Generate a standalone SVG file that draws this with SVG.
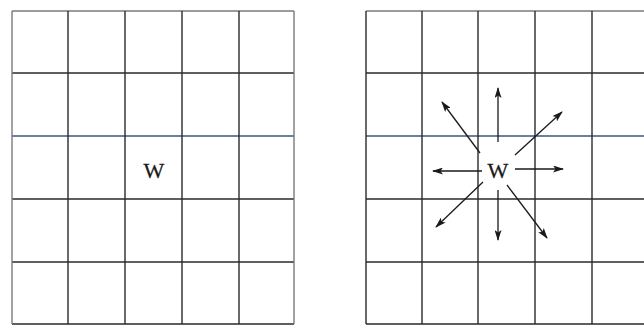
<svg xmlns="http://www.w3.org/2000/svg" width="644" height="326" viewBox="0 0 644 326">
<style>
.g{stroke:#2a2a2a;stroke-width:1.4;fill:none}
.t{stroke:#7a7a7a}
.b{stroke:#3a5585}
.w{font-family:"Liberation Serif",serif;font-size:22px;fill:#1a1a1a;stroke:#1a1a1a;stroke-width:0.3;text-anchor:middle}
.a{stroke:#1a1a1a;stroke-width:1.3;fill:none;marker-end:url(#ah)}
</style>
<defs>
<marker id="ah" viewBox="0 0 11 7" refX="10" refY="3.5" markerWidth="11" markerHeight="7" markerUnits="userSpaceOnUse" orient="auto">
<path d="M0,0 L11,3.5 L0,7 L2.5,3.5 Z" fill="#1a1a1a"/>
</marker>
</defs>
<rect width="644" height="326" fill="#ffffff"/>
<g id="grid-left">
<line class="g t" x1="12" y1="11" x2="294" y2="11"/>
<line class="g" x1="12" y1="73" x2="294" y2="73"/>
<line class="g b" x1="12" y1="136" x2="294" y2="136"/>
<line class="g" x1="12" y1="199" x2="294" y2="199"/>
<line class="g" x1="12" y1="262" x2="294" y2="262"/>
<line class="g" x1="12" y1="324" x2="294" y2="324"/>
<line class="g t" x1="12" y1="11" x2="12" y2="324"/>
<line class="g" x1="68" y1="11" x2="68" y2="324"/>
<line class="g" x1="125" y1="11" x2="125" y2="324"/>
<line class="g" x1="182" y1="11" x2="182" y2="324"/>
<line class="g" x1="239" y1="11" x2="239" y2="324"/>
<line class="g t" x1="294" y1="11" x2="294" y2="324"/>
</g>
<g id="grid-right">
<line class="g t" x1="366" y1="11" x2="644" y2="11"/>
<line class="g" x1="366" y1="73" x2="644" y2="73"/>
<line class="g b" x1="366" y1="136" x2="644" y2="136"/>
<line class="g" x1="366" y1="199" x2="644" y2="199"/>
<line class="g" x1="366" y1="262" x2="644" y2="262"/>
<line class="g" x1="366" y1="324" x2="644" y2="324"/>
<line class="g" x1="366" y1="11" x2="366" y2="324"/>
<line class="g" x1="422" y1="11" x2="422" y2="324"/>
<line class="g" x1="478" y1="11" x2="478" y2="324"/>
<line class="g" x1="535" y1="11" x2="535" y2="324"/>
<line class="g" x1="592" y1="11" x2="592" y2="324"/>
</g>
<g id="node-w-left">
<text class="w" x="154" y="178">W</text>
</g>
<g id="node-w-right">
<text class="w" x="498" y="178">W</text>
</g>
<g id="connectors">
<line class="a" x1="498" y1="142" x2="498" y2="88"/>
<line class="a" x1="498" y1="190" x2="498" y2="240"/>
<line class="a" x1="482" y1="171" x2="433" y2="171"/>
<line class="a" x1="515" y1="169" x2="563" y2="169"/>
<line class="a" x1="480" y1="153" x2="442" y2="102"/>
<line class="a" x1="515" y1="155" x2="562" y2="112"/>
<line class="a" x1="483" y1="182" x2="436" y2="227"/>
<line class="a" x1="507" y1="185" x2="547" y2="238"/>
</g>
</svg>
